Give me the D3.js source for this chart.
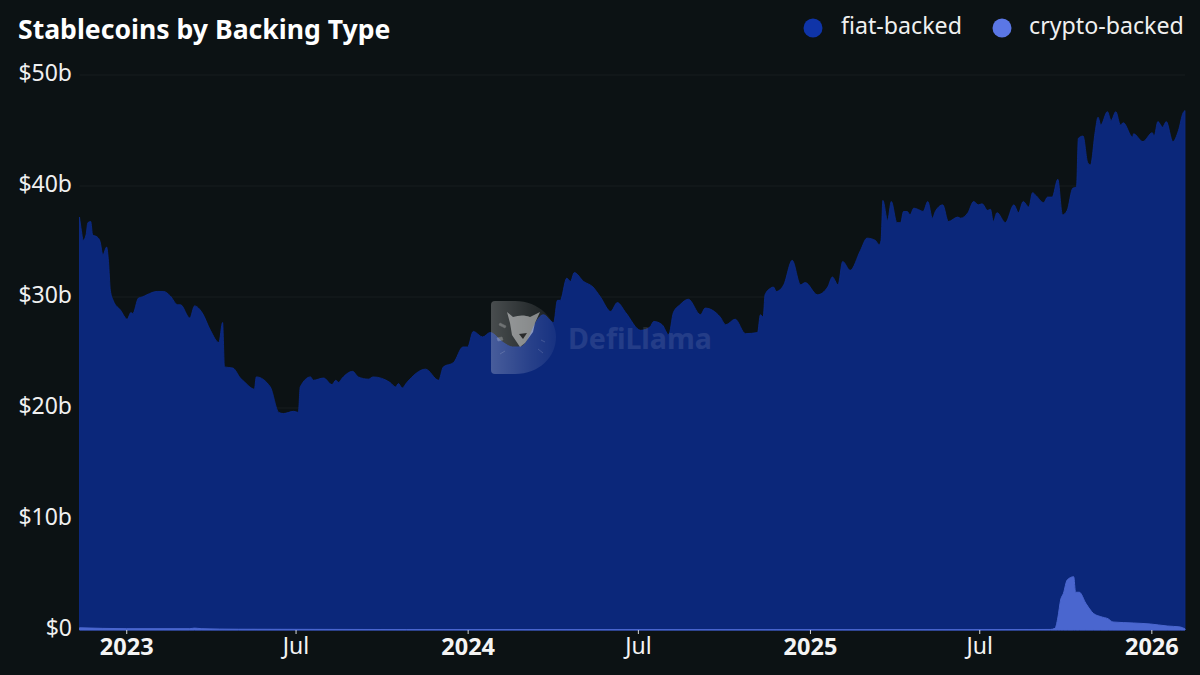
<!DOCTYPE html>
<html>
<head>
<meta charset="utf-8">
<script src="https://cdn.jsdelivr.net/npm/d3@7"></script>
<style>
  html, body { margin: 0; padding: 0; background: #0c1214; }
  text { font-family: "Noto Sans", "Open Sans", sans-serif; }
</style>
</head>
<body>
<svg id="chart"></svg>
<script>
// days counted from 2023-01-01, values in $b
const fiatDays = [-50,-48,-46,-43,-41,-38,-36,-31,-28,-25,-21,-19,-17,-14,-6,1,5,7,13,17,22,33,40,47,55,58,68,73,81,90,99,103,105,114,122,127,137,139,154,163,168,179,184,186,197,200,211,220,224,227,231,242,248,259,264,282,288,291,295,300,320,334,339,350,360,365,371,381,389,403,413,421,432,435,446,457,461,464,471,475,479,489,499,507,518,525,534,550,560,564,573,580,585,592,601,614,619,635,641,651,662,675,678,681,683,689,692,695,703,712,721,726,739,750,755,761,766,774,785,792,801,805,807,809,814,818,824,828,831,835,838,842,849,852,857,862,865,873,879,889,892,900,906,911,915,921,924,927,931,940,949,954,959,965,969,972,981,985,990,996,1001,1006,1012,1016,1018,1023,1028,1031,1036,1039,1042,1049,1053,1058,1063,1066,1076,1077,1087,1097,1099,1103,1108,1112,1119,1125,1130,1132];
const fiatValues = [37.2,36.0,35.1,35.6,36.7,36.8,35.6,35.4,35.0,33.8,34.5,33.2,30.6,29.7,28.8,28.0,28.6,28.5,29.9,30.0,30.2,30.5,30.5,30.1,29.3,29.3,28.1,29.2,28.6,27.0,25.9,27.7,23.7,23.6,22.7,22.3,21.7,22.8,21.9,19.6,19.5,19.7,19.6,21.9,22.8,22.5,22.7,22.1,22.5,22.3,22.7,23.3,22.8,22.6,22.8,22.3,21.9,22.2,21.8,22.3,23.5,22.5,23.7,24.1,25.5,25.5,26.9,26.4,26.8,25.9,25.5,25.5,26.6,27.2,28.4,27.7,29.7,29.7,31.7,31.4,32.2,31.4,30.9,30.0,28.7,29.5,28.6,27.0,27.3,27.8,27.5,26.6,28.6,29.3,29.8,28.4,29.0,28.2,27.5,28.0,26.7,26.8,28.4,28.2,30.2,30.8,30.9,30.5,31.1,33.3,31.1,31.3,30.2,30.9,31.8,31.1,33.2,32.4,34.2,35.3,35.1,34.7,35.1,38.7,36.9,38.6,36.7,36.7,37.7,37.7,37.4,38.0,37.8,37.7,38.6,37.1,37.7,38.3,36.8,37.2,37.1,37.6,38.6,38.3,38.4,37.8,37.9,36.8,37.6,36.7,38.3,37.6,38.6,38.1,39.4,39.2,38.5,39.0,39.0,40.6,37.4,37.8,39.8,39.9,44.3,44.5,42.1,41.9,44.9,46.2,45.5,46.7,45.9,46.7,45.5,45.7,44.4,44.7,44.0,44.8,44.5,45.8,45.3,45.8,44.0,45.0,46.6,46.8];

const cryptoDays = [-50,0,68,73,80,120,300,900,988,993,996,999,1002,1006,1013,1015,1019,1026,1034,1042,1050,1055,1077,1095,1113,1127,1132];
const cryptoValues = [0.2,0.12,0.12,0.17,0.12,0.07,0.04,0.03,0.05,0.15,1.08,2.7,3.3,4.5,4.8,3.4,3.4,2.4,1.5,1.2,1.0,0.72,0.63,0.54,0.36,0.27,0.1];

const yTicks = [0, 10, 20, 30, 40, 50];
const xTicks = ["2023-01-01","2023-07-01","2024-01-01","2024-07-01","2025-01-01","2025-07-01","2026-01-01"];
const seriesNames = ["fiat-backed", "crypto-backed"];

const width = 1200, height = 675;
const bg = "#0c1214";
const dayZero = new Date(2023, 0, 1);
const toDate = d => d3.timeDay.offset(dayZero, d);

const svg = d3.select("#chart").attr("width", width).attr("height", height)
  .style("display", "block").style("background", bg);

const x = d3.scaleTime()
  .domain([toDate(-50), toDate(1132)])
  .range([79.5, 1185]);
const y = d3.scaleLinear().domain([0, 50]).range([630, 75]);

// grid
svg.append("g").selectAll("line").data(yTicks.slice(1)).enter().append("line")
  .attr("x1", 79.5).attr("x2", 1185)
  .attr("y1", d => y(d)).attr("y2", d => y(d))
  .attr("stroke", "#171c1f").attr("stroke-width", 1);

// areas
const area = d3.area().x(d => x(toDate(d[0]))).y0(y(0)).y1(d => y(d[1]))
  .curve(d3.curveMonotoneX);

svg.append("path")
  .datum(fiatDays.map((d, i) => [d, fiatValues[i]]))
  .attr("d", area)
  .attr("fill", "#0b277a")
  .attr("stroke", "#0d2c8c").attr("stroke-width", 0.8);

svg.append("path")
  .datum(cryptoDays.map((d, i) => [d, cryptoValues[i]]))
  .attr("d", area)
  .attr("fill", "#4a66cf")
  .attr("stroke", "#4a66cf").attr("stroke-width", 1);

// watermark
const defs = svg.append("defs");
const grad = defs.append("linearGradient").attr("id", "markFade");
grad.append("stop").attr("offset", "0%").attr("stop-color", "#fff").attr("stop-opacity", 0.25);
grad.append("stop").attr("offset", "60%").attr("stop-color", "#fff").attr("stop-opacity", 0.12);
grad.append("stop").attr("offset", "100%").attr("stop-color", "#fff").attr("stop-opacity", 0.05);
const mark = svg.append("g").attr("transform", "translate(491,301)");
mark.append("path")
  .attr("d", "M4,0 H24 C48,0 65,18 65,36 C65,56 48,73 24,73 H4 Q0,73 0,69 V4 Q0,0 4,0 Z")
  .attr("fill", "url(#markFade)");
mark.append("path")
  .attr("d", "M16,11 L22,16 C28,14 34,14 39,16 L49,11 L44,22 L42,31 L34,42 L29,46 L21,34 L19,22 Z")
  .attr("fill", "#ffffff").attr("opacity", 0.45);
mark.append("path").attr("d", "M28,33 L36,32 L32,38 Z").attr("fill", "#111").attr("opacity", 0.8);
mark.append("path").attr("d", "M9,22 L15,25 L14,27 L8,24 Z M6,37 L11,36 L12,39 L7,40 Z M9,53 L14,50 M52,52 L47,48 M50,39 L54,41")
  .attr("fill", "#ffffff").attr("stroke", "#ffffff").attr("stroke-width", 0.6).attr("opacity", 0.25);
svg.append("text").attr("x", 568).attr("y", 349)
  .attr("fill", "#ffffff").attr("opacity", 0.1)
  .attr("font-size", 28.5).attr("font-weight", 700).text("DefiLlama");

// axes
const yAxis = d3.axisLeft(y).tickValues(yTicks).tickSize(0).tickPadding(0)
  .tickFormat(d => d === 0 ? "$0" : `$${d}b`);
const yG = svg.append("g").attr("transform", "translate(72,-1.5)").call(yAxis);
yG.select(".domain").remove();
yG.selectAll("text").attr("fill", "#f0f0f0").attr("font-size", 23);

const xAxis = d3.axisBottom(x).tickValues(xTicks.map(d => d3.timeParse("%Y-%m-%d")(d)))
  .tickSize(4).tickPadding(4)
  .tickFormat(d => d.getMonth() === 0 ? d.getFullYear() : "Jul");
const xG = svg.append("g").attr("transform", "translate(0,630)").call(xAxis);
xG.select(".domain").remove();
xG.selectAll("line").attr("stroke", "#d8dadb");
xG.selectAll("text")
  .attr("fill", "#f4f4f4")
  .attr("font-size", d => d.getMonth() === 0 ? 23.5 : 23)
  .attr("font-weight", d => d.getMonth() === 0 ? 700 : 400);

// title
svg.append("text").attr("x", 18).attr("y", 39)
  .attr("fill", "#ffffff").attr("font-size", 26.6).attr("font-weight", 700)
  .text("Stablecoins by Backing Type");

// legend
const legendX = [813, 1002], legendColors = ["#0f34a8", "#5b77e6"], labelX = [841, 1029];
const legend = svg.append("g").selectAll("g").data(seriesNames).enter().append("g");
legend.append("circle").attr("cx", (d, i) => legendX[i]).attr("cy", 28).attr("r", 9.5)
  .attr("fill", (d, i) => legendColors[i]);
legend.append("text").attr("x", (d, i) => labelX[i]).attr("y", 34)
  .attr("fill", "#f0f0f0").attr("font-size", 23.2).text(d => d);
</script>
</body>
</html>
